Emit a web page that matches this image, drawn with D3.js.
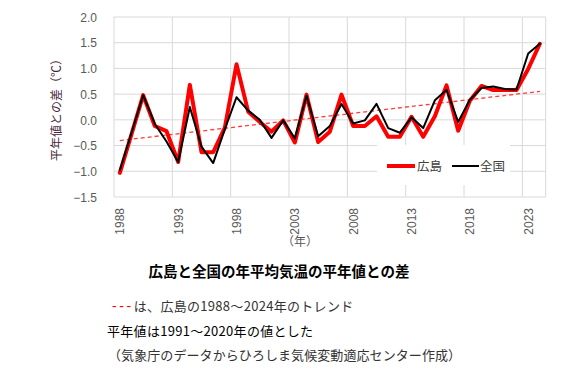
<!DOCTYPE html>
<html><head><meta charset="utf-8">
<script src="https://cdn.jsdelivr.net/npm/d3@7"></script>
<style>
html,body{margin:0;padding:0;background:#fff;}
svg{display:block;}
</style></head>
<body>
<svg id="chart" width="576" height="374"></svg>
<script>
const years = d3.range(1988, 2025);
const hiroshima = [-1.03,-0.28,0.48,-0.12,-0.22,-0.82,0.68,-0.63,-0.63,-0.15,
  1.08,0.16,-0.04,-0.23,-0.01,-0.44,0.49,-0.43,-0.23,0.49,
  -0.12,-0.12,0.07,-0.33,-0.33,0.06,-0.33,0.07,0.67,-0.21,
  0.37,0.66,0.58,0.58,0.58,0.99,1.48];
const zenkoku = [-0.98,-0.25,0.48,-0.08,-0.42,-0.82,0.25,-0.52,-0.84,-0.18,
  0.44,0.18,0.00,-0.35,-0.01,-0.36,0.47,-0.32,-0.12,0.31,
  -0.07,-0.01,0.31,-0.16,-0.25,0.05,-0.16,0.38,0.58,-0.04,
  0.39,0.62,0.65,0.60,0.59,1.29,1.48];
const yTicks = [-1.5,-1.0,-0.5,0.0,0.5,1.0,1.5,2.0];
const xTickYears = [1988,1993,1998,2003,2008,2013,2018,2023];
const seriesNames = ["広島","全国"];

const svg = d3.select("#chart");
const L = 114, R = 545.7, T = 17, B = 197;
const x = d3.scaleBand().domain(years).range([L, R]).padding(0);
const cx = d => x(d) + x.bandwidth()/2;
const y = d3.scaleLinear().domain([-1.5, 2.0]).range([B, T]);
const fontLat = "'Liberation Sans', Arial, sans-serif";
const fontJp = "'Noto Sans CJK JP', sans-serif";

// gridlines
const grid = svg.append("g");
grid.selectAll("line.h").data(yTicks).join("line")
  .attr("x1", L).attr("x2", R).attr("y1", d => y(d)).attr("y2", d => y(d))
  .attr("stroke", "#d9d9d9").attr("stroke-width", 1);
grid.selectAll("line.v").data(xTickYears.slice(1)).join("line")
  .attr("x1", d => x(d)).attr("x2", d => x(d)).attr("y1", T).attr("y2", B)
  .attr("stroke", "#d9d9d9").attr("stroke-width", 1);
grid.append("line").attr("x1", L).attr("x2", L).attr("y1", T).attr("y2", B).attr("stroke", "#d9d9d9");
grid.append("line").attr("x1", R).attr("x2", R).attr("y1", T).attr("y2", B).attr("stroke", "#d9d9d9");

// y axis labels
const yAxis = d3.axisLeft(y).tickValues(yTicks).tickFormat(d3.format(".1f")).tickSize(0).tickPadding(0);
const ya = svg.append("g").attr("transform", `translate(${L-17},0)`).call(yAxis);
ya.select(".domain").remove();
ya.selectAll("text").attr("font-family", fontLat).attr("font-size", 12).attr("fill", "#595959").attr("dy", "0.35em");

// x axis labels
const xa = svg.append("g");
xa.selectAll("text").data(xTickYears).join("text")
  .attr("transform", d => `translate(${cx(d)+4.5},208) rotate(-90)`)
  .attr("text-anchor", "end")
  .attr("font-family", fontLat).attr("font-size", 12).attr("fill", "#595959")
  .text(d => d);

svg.append("text").attr("x", 300).attr("y", 246).attr("text-anchor", "middle")
  .attr("font-family", fontJp).attr("font-size", 12).attr("fill", "#595959").text("（年）");

svg.append("text").attr("transform", "translate(61,107) rotate(-90)").attr("text-anchor", "middle")
  .attr("font-family", fontJp).attr("font-size", 12).attr("fill", "#4a1f40").text("平年値との差（℃）");

// trend (linear regression of Hiroshima)
const n = years.length;
const mx = d3.mean(years), my = d3.mean(hiroshima);
const slope = d3.sum(years, (t,i) => (t-mx)*(hiroshima[i]-my)) / d3.sum(years, t => (t-mx)*(t-mx));
const trend = t => my + slope*(t-mx);
svg.append("line")
  .attr("x1", cx(years[0])).attr("y1", y(trend(years[0])))
  .attr("x2", cx(years[n-1])).attr("y2", y(trend(years[n-1])))
  .attr("stroke", "#ff3b3b").attr("stroke-width", 1.3).attr("stroke-dasharray", "4,3");

const line = d3.line().x((d,i) => cx(years[i])).y(d => y(d));
svg.append("path").datum(hiroshima).attr("d", line).attr("fill", "none")
  .attr("stroke", "#ff0000").attr("stroke-width", 4).attr("stroke-linejoin", "round").attr("stroke-linecap", "round");
svg.append("path").datum(zenkoku).attr("d", line).attr("fill", "none")
  .attr("stroke", "#000000").attr("stroke-width", 2).attr("stroke-linejoin", "round").attr("stroke-linecap", "round");

// legend
const lg = svg.append("g");
lg.append("rect").attr("x", 377).attr("y", 145).attr("width", 133).attr("height", 40).attr("fill", "#fff");
lg.append("line").attr("x1", 387).attr("x2", 415).attr("y1", 166).attr("y2", 166).attr("stroke", "#ff0000").attr("stroke-width", 4);
lg.append("text").attr("x", 417).attr("y", 170.5).attr("font-family", fontJp).attr("font-size", 12.5).attr("fill", "#404040").text(seriesNames[0]);
lg.append("line").attr("x1", 452).attr("x2", 479).attr("y1", 166).attr("y2", 166).attr("stroke", "#000").attr("stroke-width", 2);
lg.append("text").attr("x", 480).attr("y", 170.5).attr("font-family", fontJp).attr("font-size", 12.5).attr("fill", "#404040").text(seriesNames[1]);

// title and notes
svg.append("text").attr("x", 279).attr("y", 277).attr("text-anchor", "middle")
  .attr("font-family", fontJp).attr("font-size", 14.5).attr("font-weight", "bold").attr("fill", "#000")
  .text("広島と全国の年平均気温の平年値との差");

const note1 = svg.append("text").attr("x", 112).attr("y", 311)
  .attr("font-family", fontJp).attr("font-size", 13).attr("fill", "#333");
note1.append("tspan").attr("fill", "#ff0000").attr("font-family", fontLat).attr("font-size", 14)
  .attr("letter-spacing", 2.6).text("---");
note1.append("tspan").attr("letter-spacing", 0.3).text("は、広島の1988〜2024年のトレンド");

svg.append("text").attr("x", 107).attr("y", 335.5)
  .attr("font-family", fontJp).attr("font-size", 13).attr("fill", "#000").attr("letter-spacing", 0.3)
  .text("平年値は1991〜2020年の値とした");
svg.append("text").attr("x", 108).attr("y", 359.5)
  .attr("font-family", fontJp).attr("font-size", 13).attr("fill", "#333").attr("letter-spacing", 0.08)
  .text("（気象庁のデータからひろしま気候変動適応センター作成）");
</script>
</body></html>
